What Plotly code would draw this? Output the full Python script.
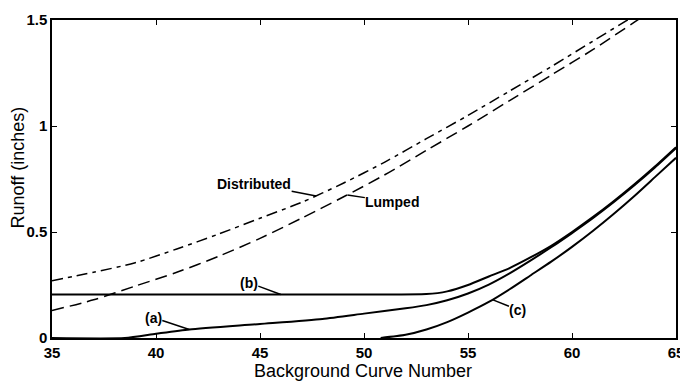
import plotly.graph_objects as go

# ---- data ----
x_dist = [35, 37, 39, 41, 43, 45, 47, 49, 51, 53, 55, 57, 59, 61, 63, 65]
y_dist = [0.27, 0.31, 0.355, 0.42, 0.49, 0.565, 0.64, 0.73, 0.83, 0.94, 1.05, 1.165, 1.28, 1.40, 1.52, 1.64]

x_lump = [35, 37, 39, 41, 43, 45, 47, 49, 51, 53, 55, 57, 59, 61, 63, 65]
y_lump = [0.13, 0.18, 0.245, 0.31, 0.385, 0.47, 0.565, 0.665, 0.77, 0.885, 1.0, 1.12, 1.24, 1.36, 1.49, 1.62]

x_b = [35, 40, 45, 50, 53, 54, 55, 56, 57, 58, 59, 60, 61, 62, 63, 64, 65]
y_b = [0.205, 0.205, 0.205, 0.205, 0.207, 0.22, 0.25, 0.29, 0.33, 0.38, 0.435, 0.50, 0.57, 0.645, 0.725, 0.81, 0.90]

x_a = [35, 38.5, 40, 41.6, 45, 48, 50, 52, 53, 54, 55, 56, 57, 58, 59, 60, 61, 62, 63, 64, 65]
y_a = [0.0, 0.0, 0.02, 0.04, 0.066, 0.09, 0.115, 0.14, 0.155, 0.178, 0.21, 0.252, 0.305, 0.365, 0.428, 0.495, 0.565, 0.64, 0.72, 0.805, 0.895]

x_c = [50.8, 52, 53, 54, 55, 56, 57, 58, 59, 60, 61, 62, 63, 64, 65]
y_c = [0.0, 0.015, 0.04, 0.075, 0.12, 0.17, 0.23, 0.295, 0.36, 0.43, 0.505, 0.585, 0.67, 0.76, 0.85]

x_ticks = [35, 40, 45, 50, 55, 60, 65]
y_ticks = [0, 0.5, 1, 1.5]
y_tick_text = ["0", "0.5", "1", "1.5"]

x_title = "Background Curve Number"
y_title = "Runoff (inches)"

# labels: (text, x, y, ax, ay)
labels = [
    ("Distributed", 47.7, 0.67, -62, -12),
    ("Lumped", 49.2, 0.675, 45, 7),
    ("(b)", 46.0, 0.205, -32, -12),
    ("(a)", 41.6, 0.04, -36, -12),
    ("(c)", 56.2, 0.18, 25, 10),
]

FONT = "Liberation Sans, Arial, sans-serif"

fig = go.Figure()
fig.add_trace(go.Scatter(x=x_dist, y=y_dist, mode="lines",
                         line=dict(color="black", width=1.5, dash="11px,5px,4px,5px",
                                   shape="spline", smoothing=0.8),
                         showlegend=False))
fig.add_trace(go.Scatter(x=x_lump, y=y_lump, mode="lines",
                         line=dict(color="black", width=1.5, dash="12px,6px",
                                   shape="spline", smoothing=0.8),
                         showlegend=False))
for xs, ys in [(x_b, y_b), (x_a, y_a), (x_c, y_c)]:
    fig.add_trace(go.Scatter(x=xs, y=ys, mode="lines",
                             line=dict(color="black", width=2, shape="spline", smoothing=0.6),
                             showlegend=False))

for text, lx, ly, ax, ay in labels:
    fig.add_annotation(x=lx, y=ly, text=text, showarrow=True, arrowhead=0,
                       arrowwidth=1.5, arrowcolor="black", ax=ax, ay=ay,
                       font=dict(family=FONT, size=14, color="black", weight="bold"),
                       borderpad=0)

# axis titles as paper-positioned annotations
fig.add_annotation(xref="paper", yref="paper", x=0.498, y=-0.104, text=x_title,
                   showarrow=False, xanchor="center", yanchor="middle",
                   font=dict(family=FONT, size=18, color="black"))
fig.add_annotation(xref="paper", yref="paper", x=-0.055, y=0.535, text=y_title,
                   showarrow=False, xanchor="center", yanchor="middle", textangle=-90,
                   font=dict(family=FONT, size=18, color="black"))

fig.update_xaxes(range=[35, 65], tickvals=x_ticks, ticks="inside", ticklen=5,
                 tickcolor="black", showline=True, linecolor="black", linewidth=1.5,
                 mirror="ticks", showgrid=False, zeroline=False, automargin=False,
                 ticklabeloverflow="allow",
                 tickfont=dict(family=FONT, size=15, color="black", weight="bold"))
fig.update_yaxes(range=[0, 1.5], tickvals=y_ticks, ticktext=y_tick_text, ticks="inside",
                 ticklen=5, tickcolor="black", showline=True, linecolor="black",
                 linewidth=1.5, mirror="ticks", showgrid=False, zeroline=False,
                 automargin=False, ticklabeloverflow="allow",
                 tickfont=dict(family=FONT, size=15, color="black", weight="bold"))

fig.update_layout(width=680, height=383, margin=dict(l=52, r=4, t=20, b=45),
                  plot_bgcolor="white", paper_bgcolor="white")

fig.write_html("out.html", config={"displayModeBar": False},
               post_script="document.body.style.margin='0';document.body.style.overflow='hidden';")
